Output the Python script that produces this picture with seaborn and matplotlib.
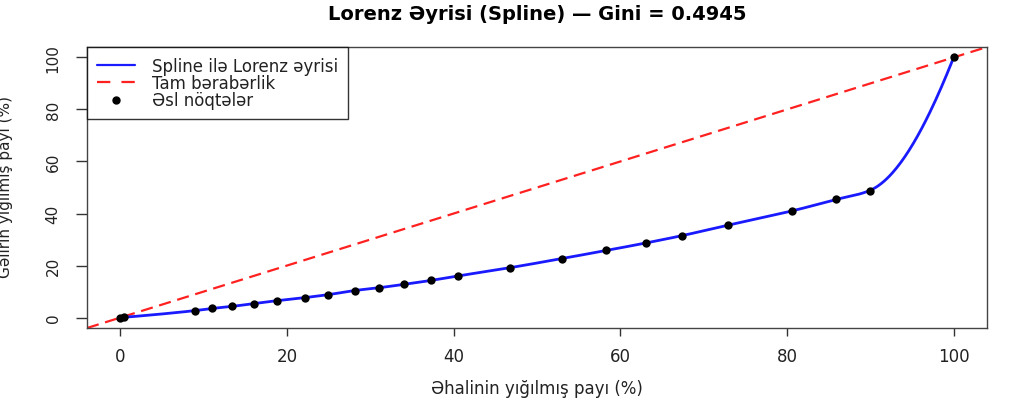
import numpy as np
import pandas as pd
import matplotlib
matplotlib.use("Agg")
import matplotlib.pyplot as plt
import seaborn as sns
from matplotlib.lines import Line2D

# ---- data ----
pop_share = [0.0, 0.4, 9.0, 11.0, 13.4, 16.0, 18.8, 22.2, 24.9, 28.1, 31.1, 34.1,
             37.3, 40.5, 46.8, 53.0, 58.3, 63.1, 67.4, 72.9, 80.6, 85.9, 89.9, 100.0]
inc_share = [0.0, 0.1, 2.7, 3.5, 4.3, 5.4, 6.5, 7.7, 8.8, 10.4, 11.5, 12.8,
             14.3, 16.0, 19.2, 22.7, 25.8, 28.7, 31.5, 35.5, 41.0, 45.4, 48.8, 100.0]
gini = 0.4945
x_ticks = [0, 20, 40, 60, 80, 100]
y_ticks = [0, 20, 40, 60, 80, 100]


def pchip(x, y, xn):
    x = np.asarray(x, float); y = np.asarray(y, float)
    h = np.diff(x); d = np.diff(y) / h
    n = len(x); m = np.zeros(n)
    for k in range(1, n - 1):
        if d[k - 1] * d[k] <= 0:
            m[k] = 0
        else:
            w1 = 2 * h[k] + h[k - 1]; w2 = h[k] + 2 * h[k - 1]
            m[k] = (w1 + w2) / (w1 / d[k - 1] + w2 / d[k])
    def end(h0, h1, d0, d1):
        s = ((2 * h0 + h1) * d0 - h0 * d1) / (h0 + h1)
        if np.sign(s) != np.sign(d0):
            s = 0
        elif np.sign(d0) != np.sign(d1) and abs(s) > abs(3 * d0):
            s = 3 * d0
        return s
    m[0] = end(h[0], h[1], d[0], d[1])
    m[-1] = end(h[-1], h[-2], d[-1], d[-2])
    idx = np.clip(np.searchsorted(x, xn) - 1, 0, n - 2)
    t = (xn - x[idx]) / h[idx]
    h00 = 2 * t**3 - 3 * t**2 + 1; h10 = t**3 - 2 * t**2 + t
    h01 = -2 * t**3 + 3 * t**2; h11 = t**3 - t**2
    return h00 * y[idx] + h10 * h[idx] * m[idx] + h01 * y[idx + 1] + h11 * h[idx] * m[idx + 1]


xs = np.linspace(0, 100, 600)
curve = pd.DataFrame({"x": xs, "y": pchip(pop_share, inc_share, xs)})
pts = pd.DataFrame({"x": pop_share, "y": inc_share})

sns.set_style("white")
plt.rcParams["font.family"] = ["DejaVu Sans"]

TXT = "#222222"
fig = plt.figure(figsize=(10.30, 4.02), dpi=100)
ax = fig.add_axes([87 / 1030, 1 - 329 / 402, 900 / 1030, 281 / 402])

ax.axline((0, 0), slope=1, color="#ff2020", lw=1.6, ls=(0, (5.5, 3)), zorder=2)
sns.lineplot(data=curve, x="x", y="y", ax=ax, color="#1a1aff", lw=2.0, zorder=3)
sns.scatterplot(data=pts, x="x", y="y", ax=ax, color="black", s=36,
                edgecolor="black", linewidth=0, zorder=4)

ax.set_xlim(-4, 104)
ax.set_ylim(-4, 104)
ax.set_xticks(x_ticks)
ax.set_yticks(y_ticks)
ax.tick_params(axis="x", bottom=True, direction="out", length=6, width=1,
               color="#333333", labelsize=12, labelcolor=TXT, pad=8)
ax.tick_params(axis="y", left=True, direction="out", length=8, width=1,
               color="#333333", labelsize=11, labelcolor=TXT, pad=11)
for lab in ax.get_yticklabels():
    lab.set_rotation(90)
    lab.set_va("center")
for s in ax.spines.values():
    s.set_color("#444444")
    s.set_linewidth(1.0)

ax.set_xlabel("Əhalinin yığılmış payı (%)", fontsize=12, color=TXT, labelpad=10)
ax.set_ylabel("")
fig.text(5 / 1030, 0.535, "Gəlirin yığılmış payı (%)", rotation=90, ha="center",
         va="center", fontsize=11, color=TXT)
fig.text(537 / 1030, 1 - 14 / 402, f"Lorenz Əyrisi (Spline) — Gini = {gini:.4f}",
         ha="center", va="center", fontsize=14, fontweight="bold", color="black")

handles = [
    Line2D([], [], color="#1a1aff", lw=1.6),
    Line2D([], [], color="#ff2020", lw=1.6, ls=(0, (6, 5))),
    Line2D([], [], color="black", lw=0, marker="o", markersize=5),
]
labels = ["Spline ilə Lorenz əyrisi", "Tam bərabərlik", "Əsl nöqtələr"]
leg = ax.legend(handles, labels, loc="upper left", bbox_to_anchor=(0, 1),
                borderaxespad=0, fontsize=12, frameon=True, fancybox=False,
                edgecolor="black", handlelength=2.3, handletextpad=1.0,
                labelspacing=-0.05, borderpad=0.6)
leg.get_frame().set_linewidth(1.0)
for t in leg.get_texts():
    t.set_color(TXT)

fig.savefig("out.png", dpi=100, facecolor="white")
